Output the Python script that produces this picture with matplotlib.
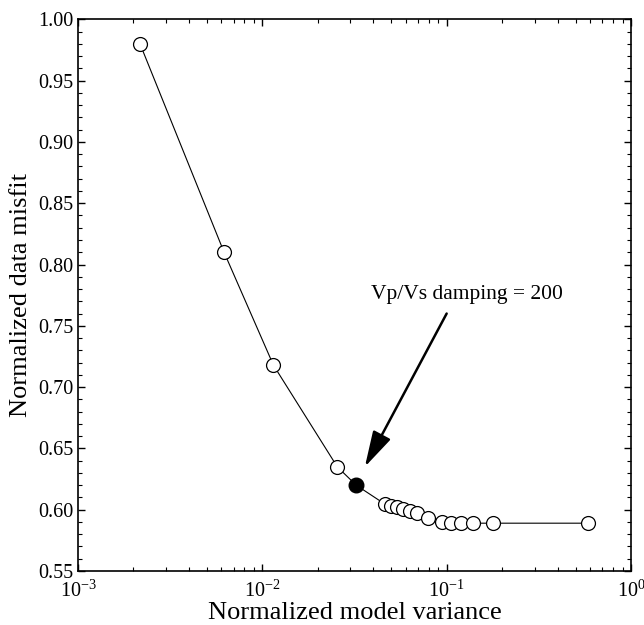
import numpy as np
import matplotlib.pyplot as plt
from matplotlib.ticker import MultipleLocator, LogLocator, NullFormatter

plt.rcParams['font.family'] = ['Liberation Serif', 'DejaVu Serif']
plt.rcParams['mathtext.fontset'] = 'custom'
plt.rcParams['mathtext.rm'] = 'Liberation Serif'
plt.rcParams['mathtext.it'] = 'Liberation Serif:italic'

# trade-off curve: model variance vs data misfit for each damping value
variance = [0.00217, 0.0062, 0.01148, 0.0255, 0.0323,
            0.0463, 0.0499, 0.0538, 0.0580, 0.0629, 0.0691, 0.0793,
            0.0938, 0.1050, 0.1190, 0.1396, 0.1779, 0.585]
misfit = [0.980, 0.810, 0.718, 0.635, 0.620,
          0.6045, 0.6032, 0.6020, 0.6005, 0.5990, 0.5975, 0.5935,
          0.5900, 0.5893, 0.5890, 0.5890, 0.5890, 0.5890]
chosen = 4  # Vp/Vs damping = 200

fig = plt.figure(figsize=(6.44, 6.25), dpi=100)
ax = fig.add_axes([0.1211, 0.0864, 0.8587, 0.8827])

ax.plot(variance, misfit, '-', color='black', lw=0.8, zorder=1)
open_idx = [i for i in range(len(variance)) if i != chosen]
ax.plot([variance[i] for i in open_idx], [misfit[i] for i in open_idx], 'o',
        ms=10, mfc='white', mec='black', mew=0.9, zorder=2)
ax.plot(variance[chosen], misfit[chosen], 'o', ms=10.5, mfc='black', mec='black', zorder=3)

# arrow pointing at the chosen damping value
ax.annotate('', xy=(0.0360, 0.635), xytext=(0.1, 0.760),
            arrowprops=dict(arrowstyle='-|>,head_length=2.2,head_width=0.6',
                            color='black', lw=1.8, shrinkA=0, shrinkB=0))
ax.text(0.129, 0.768, 'Vp/Vs damping = 200', fontsize=15.5, ha='center', va='bottom')

ax.set_xscale('log')
ax.set_xlim(1e-3, 1)
ax.set_ylim(0.55, 1.0)
ax.yaxis.set_major_locator(MultipleLocator(0.05))
ax.yaxis.set_minor_locator(MultipleLocator(0.01))
ax.yaxis.set_major_formatter(plt.FormatStrFormatter('%.2f'))
ax.xaxis.set_major_locator(LogLocator(base=10, numticks=10))
ax.xaxis.set_minor_locator(LogLocator(base=10, subs=np.arange(2, 10), numticks=10))
ax.xaxis.set_minor_formatter(NullFormatter())

ax.tick_params(which='both', direction='in', top=True, right=True, labelsize=14.5)
ax.tick_params(which='major', length=5, width=1)
ax.tick_params(which='minor', length=3, width=0.8)
ax.tick_params(axis='x', pad=7)
for s in ax.spines.values():
    s.set_linewidth(1.2)

ax.set_xlabel('Normalized model variance', fontsize=19, labelpad=0)
ax.set_ylabel('Normalized data misfit', fontsize=19, labelpad=4)

fig.savefig('out.png', dpi=100)
